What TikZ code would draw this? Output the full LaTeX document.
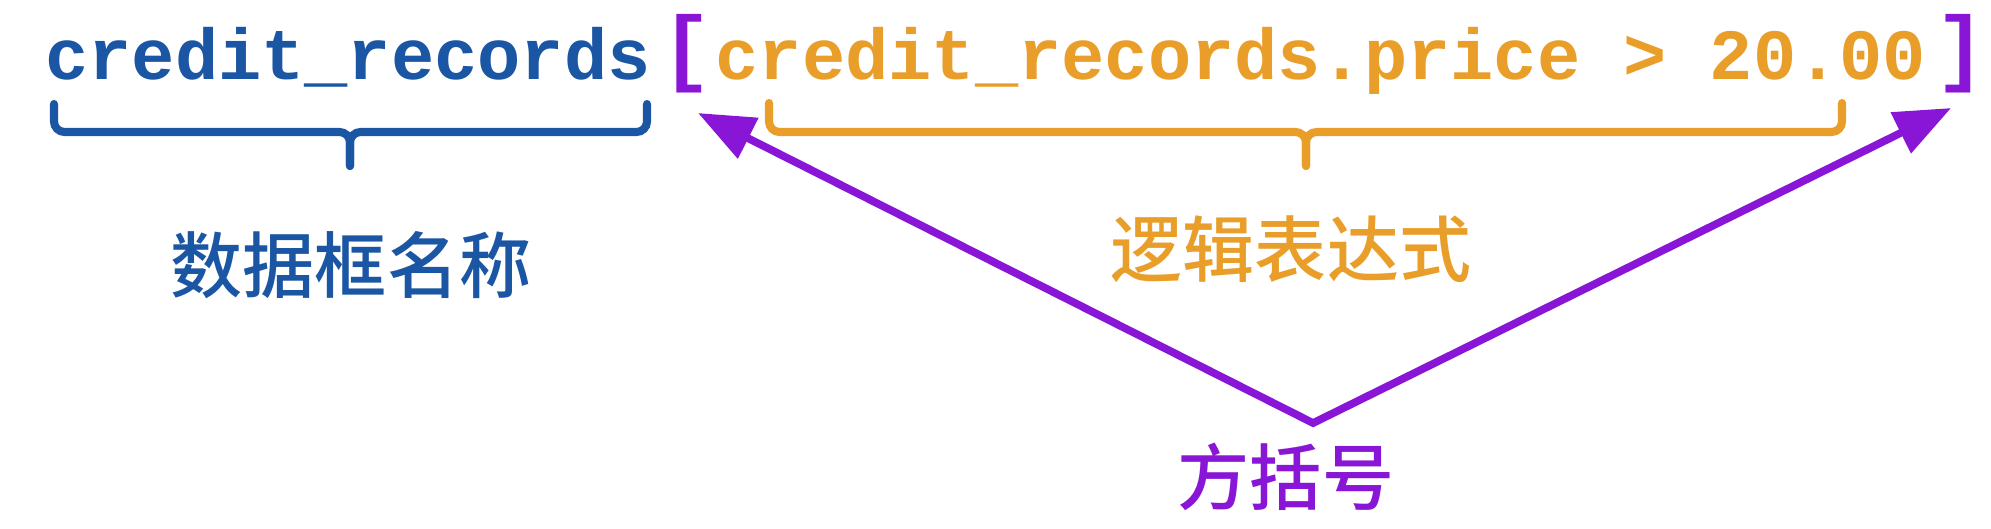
\documentclass[tikz,border=0pt]{standalone}
\usepackage{fontspec}
\usepackage{tikz}
\usetikzlibrary{arrows.meta}
\newfontfamily\codefont{Liberation Mono}
\newfontfamily\cjk{Noto Sans CJK SC Medium}
\definecolor{dfblue}{RGB}{26,86,163}
\definecolor{exprorange}{RGB}{233,158,42}
\definecolor{brackpurple}{RGB}{137,22,214}
\tikzset{
  code/.style={font=\codefont\bfseries\fontsize{20.5}{24}\selectfont},
  brack/.style={font=\codefont\bfseries\fontsize{24}{28}\selectfont, text=brackpurple},
  cnlabel/.style={font=\cjk\fontsize{20.5}{24}\selectfont},
  bracepath/.style={line width=2.3pt, line cap=round, rounded corners=3pt},
  pointer/.style={brackpurple, line width=2.2pt, line join=miter,
    {Triangle[length=16pt,width=12.5pt]}-{Triangle[length=16pt,width=12.5pt]}}
}

\begin{document}
\begin{tikzpicture}[scale=0.1]
\tikzstyle{every node}+=[inner sep=0pt]
\useasboundingbox (0,0) rectangle (199.1,-52.8);
% code line
\node [code, text=dfblue, anchor=base] (dfname) at (34.8,-7.9) {credit\_records};
\node [brack] (lbrack) at (68.7,-5.4) {[};
\node [code, text=exprorange, anchor=base] (expr) at (132.1,-7.9) {credit\_records.price > 20.00};
\node [brack] (rbrack) at (196.1,-5.4) {]};
% braces
\draw [bracepath, dfblue] (5.4,-10.4) |- (35,-13.2) -- (35,-16.6);
\draw [bracepath, dfblue] (64.7,-10.4) |- (35,-13.2) -- (35,-16.6);
\draw [bracepath, exprorange] (76.9,-10.3) |- (130.6,-13.2) -- (130.6,-16.6);
\draw [bracepath, exprorange] (184.2,-10.3) |- (130.6,-13.2) -- (130.6,-16.6);
% labels
\node [cnlabel, text=dfblue] (dflabel) at (35.1,-26.5) {数据框名称};
\node [cnlabel, text=exprorange] (exprlabel) at (129.1,-24.9) {逻辑表达式};
\node [cnlabel, text=brackpurple] (bracklabel) at (128.6,-47.7) {方括号};
% arrows to the brackets
\coordinate (apex) at (131.3,-42.3);
\coordinate (ltip) at (69.8,-11.3);
\coordinate (rtip) at (195.1,-10.8);
\draw [pointer] (ltip) -- (apex) -- (rtip);
\end{tikzpicture}
\end{document}
